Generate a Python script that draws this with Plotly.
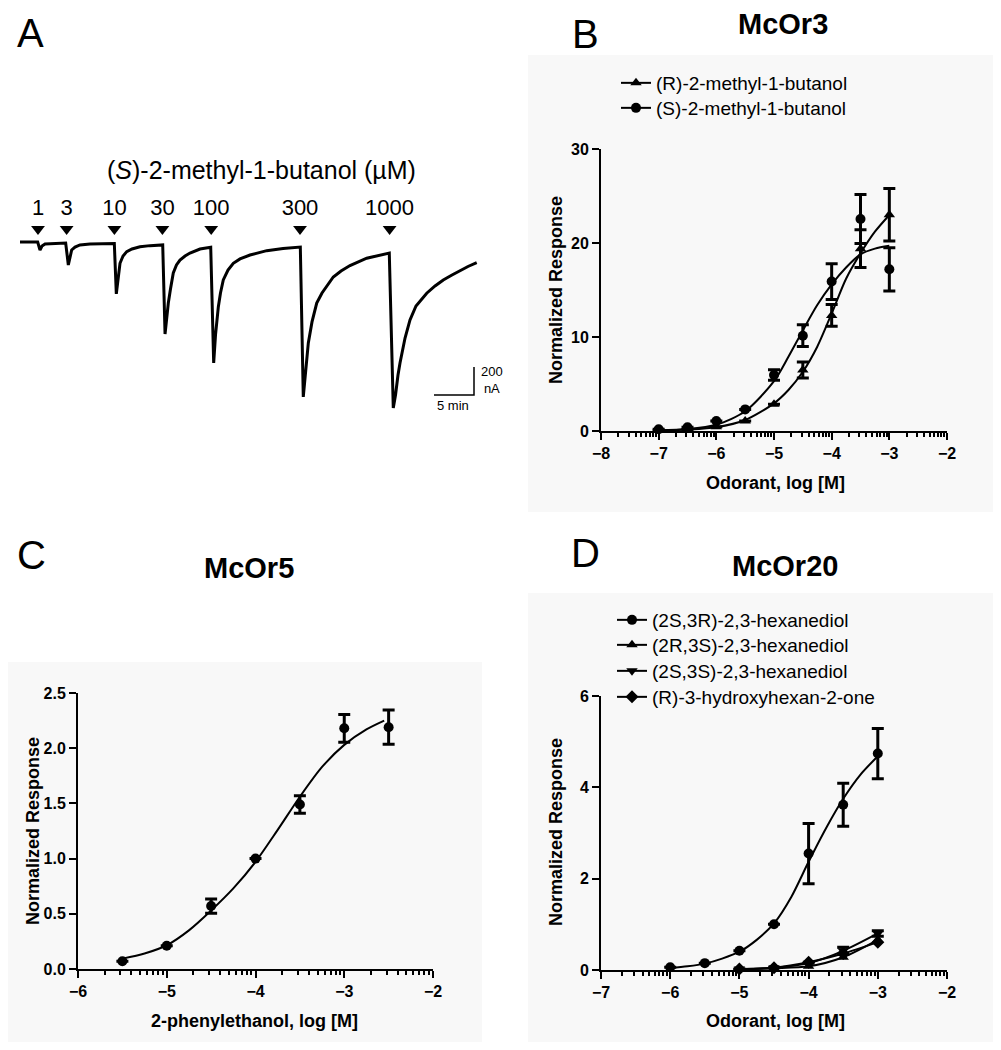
import numpy as np
import plotly.graph_objects as go

# The page body keeps its default 8px margin, so the figure is sized to fill
# the 1001x1050 window exactly with that margin around it.
WIN_W, WIN_H, OFF = 1001, 1050, 8
FW, FH = WIN_W - 2 * OFF, WIN_H - 2 * OFF
FONT = "Liberation Sans, Arial, sans-serif"

# ---------------- Panel A: two-electrode voltage clamp trace ----------------
trace_time_min = [0.0, 2.21, 2.5, 2.75, 3.13, 5.63,
                  5.71, 6.04, 6.25, 6.46, 6.88, 7.5, 8.75, 11.73,
                  11.79, 12.04, 12.25, 12.5, 12.88, 13.34, 14.0, 15.0, 16.25, 17.8,
                  17.84, 18.13, 18.31, 18.54, 18.81, 19.16, 19.56, 20.0, 20.63, 21.25, 22.5, 23.79,
                  23.84, 24.21, 24.44, 24.79, 25.06, 25.41, 26.0, 26.66, 27.5, 28.75, 30.84, 32.88, 35.0,
                  35.04, 35.41, 35.63, 36.04, 36.5, 37.09, 37.75, 38.38, 39.16, 40.13, 41.25, 43.34, 44.75, 46.13,
                  46.16, 46.66, 46.94, 47.25, 47.5, 48.13, 48.75, 49.5, 50.84, 51.88, 52.91, 54.0, 55.0, 56.0, 57.09]
trace_current_nA = [0, 0, -57, -29, -14, -7,
                    -7, -164, -100, -57, -36, -21, -14, -11,
                    -11, -371, -250, -152, -100, -69, -50, -34, -26, -21,
                    -21, -657, -543, -436, -336, -221, -164, -129, -100, -79, -50, -38,
                    -38, -864, -664, -464, -364, -271, -200, -152, -121, -93, -62, -46, -36,
                    -36, -1107, -986, -721, -571, -436, -364, -314, -250, -207, -168, -116, -96, -79,
                    -79, -1186, -1093, -950, -864, -686, -557, -457, -366, -314, -271, -236, -204, -175, -148]
stim_time_min = [2.25, 5.83, 11.8, 17.8, 23.9, 35.0, 46.2]
stim_conc_uM = ["1", "3", "10", "30", "100", "300", "1000"]
SCALE_MIN, SCALE_NA = 5, 200

# ---------------- Panel B: McOr3 ----------------
logc_B = [-7, -6.5, -6, -5.5, -5, -4.5, -4, -3.5, -3]
R_mean = [0.05, 0.15, 0.45, 1.06, 2.84, 6.5, 12.3, 19.4, 23.0]
R_sem = [None, None, None, None, None, 0.85, 1.15, 2.0, 2.8]
S_mean = [0.18, 0.39, 1.06, 2.3, 5.96, 10.14, 15.9, 22.55, 17.2]
S_sem = [None, None, None, None, 0.55, 1.15, 1.9, 2.6, 2.3]
fit_x_B = [-7, -6.5, -6, -5.5, -5, -4.75, -4.5, -4.25, -4, -3.75, -3.5, -3.25, -3]
S_fit = [0.07, 0.2, 0.66, 2.1, 5.3, 7.9, 10.7, 13.4, 15.6, 17.4, 18.8, 19.4, 19.7]
R_fit = [0.05, 0.15, 0.4, 1.17, 2.94, 4.36, 6.3, 8.97, 12.5, 16.2, 18.9, 21.2, 22.98]

# ---------------- Panel C: McOr5 ----------------
logc_C = [-5.5, -5, -4.5, -4, -3.5, -3, -2.5]
C_mean = [0.07, 0.21, 0.57, 1.0, 1.49, 2.18, 2.19]
C_sem = [None, None, 0.065, None, 0.08, 0.125, 0.155]
fit_x_C = [-5.5, -5.25, -5, -4.75, -4.5, -4.25, -4, -3.75, -3.5, -3.25, -3, -2.75, -2.55]
C_fit = [0.094, 0.14, 0.215, 0.35, 0.53, 0.73, 0.97, 1.26, 1.56, 1.83, 2.03, 2.17, 2.25]

# ---------------- Panel D: McOr20 ----------------
logc_D = [-6, -5.5, -5, -4.5, -4, -3.5, -3]
D1_mean = [0.06, 0.15, 0.42, 1.0, 2.55, 3.62, 4.74]
D1_sem = [None, None, None, None, 0.66, 0.47, 0.55]
fit_x_D1 = [-6, -5.75, -5.5, -5.25, -5, -4.75, -4.5, -4.25, -4, -3.75, -3.5, -3.25, -3]
D1_fit = [0.04, 0.08, 0.14, 0.25, 0.4, 0.66, 1.02, 1.6, 2.37, 3.1, 3.75, 4.28, 4.68]
logc_D_low = [-5, -4.5, -4, -3.5, -3]
D2_mean = [0.02, 0.04, 0.08, 0.28, 0.66]
D3_mean = [0.02, 0.05, 0.15, 0.42, 0.80]
D3_sem = [None, None, None, 0.08, 0.06]
D4_mean = [0.02, 0.05, 0.17, 0.36, 0.61]

names_B = ["(R)-2-methyl-1-butanol", "(S)-2-methyl-1-butanol"]
names_D = ["(2S,3R)-2,3-hexanediol", "(2R,3S)-2,3-hexanediol",
           "(2S,3S)-2,3-hexanediol", "(R)-3-hydroxyhexan-2-one"]


def px(x):
    """window pixel -> paper x"""
    return min(max((x - OFF) / FW, 0), 1)


def py(y):
    """window pixel -> paper y"""
    return min(max(1 - (y - OFF) / FH, 0), 1)


fig = go.Figure()
BLACK = "black"
MS = 10

# Panel A trace
fig.add_trace(go.Scatter(x=trace_time_min, y=trace_current_nA, mode="lines",
                         line=dict(color=BLACK, width=3), xaxis="x4", yaxis="y4",
                         showlegend=False, hoverinfo="skip"))
ARROW_Y = 93
fig.add_trace(go.Scatter(x=stim_time_min, y=[ARROW_Y] * len(stim_time_min), mode="markers+text",
                         marker=dict(symbol="triangle-down", size=12, color=BLACK),
                         text=stim_conc_uM, textposition="top center",
                         textfont=dict(family=FONT, size=22, color=BLACK),
                         xaxis="x4", yaxis="y4", showlegend=False, cliponaxis=False, hoverinfo="skip"))
SB_T0, SB_I0 = 51.75, -1093
fig.add_trace(go.Scatter(x=[SB_T0, SB_T0 + SCALE_MIN, SB_T0 + SCALE_MIN],
                         y=[SB_I0, SB_I0, SB_I0 + SCALE_NA], mode="lines",
                         line=dict(color=BLACK, width=1.5), xaxis="x4", yaxis="y4",
                         showlegend=False, cliponaxis=False, hoverinfo="skip"))


def add_series(x, y, err, fx, fy, symbol, ax, name, legend, size=MS):
    fig.add_trace(go.Scatter(x=fx, y=fy, mode="lines", line=dict(color=BLACK, width=2, shape="spline", smoothing=0.8),
                             xaxis=ax[0], yaxis=ax[1], showlegend=False, hoverinfo="skip", cliponaxis=False))
    fig.add_trace(go.Scatter(x=x, y=y, mode="markers", marker=dict(symbol=symbol, size=size, color=BLACK),
                             error_y=dict(type="data", array=err, color=BLACK, thickness=3, width=6,
                                          visible=err is not None),
                             xaxis=ax[0], yaxis=ax[1], showlegend=False, cliponaxis=False))
    if name:
        fig.add_trace(go.Scatter(x=[None], y=[None], mode="lines+markers", name=name,
                                 line=dict(color=BLACK, width=2), marker=dict(symbol=symbol, size=size, color=BLACK),
                                 xaxis=ax[0], yaxis=ax[1], legend=legend))


# each legend entry gets its own legend box so row spacing matches the original
add_series(logc_B, R_mean, R_sem, fit_x_B, R_fit, "triangle-up", ("x", "y"), names_B[0], "legend")
add_series(logc_B, S_mean, S_sem, fit_x_B, S_fit, "circle", ("x", "y"), names_B[1], "legend2")
add_series(logc_C, C_mean, C_sem, fit_x_C, C_fit, "circle", ("x2", "y2"), None, None)
add_series(logc_D, D1_mean, D1_sem, fit_x_D1, D1_fit, "circle", ("x3", "y3"), names_D[0], "legend3")
add_series(logc_D_low, D2_mean, None, logc_D_low, D2_mean, "triangle-up", ("x3", "y3"), names_D[1], "legend4")
add_series(logc_D_low, D3_mean, D3_sem, logc_D_low, D3_mean, "triangle-down", ("x3", "y3"), names_D[2], "legend5")
add_series(logc_D_low, D4_mean, None, logc_D_low, D4_mean, "diamond", ("x3", "y3"), names_D[3], "legend6")


def minor_vals(lo, hi):
    vals = []
    for d in range(lo, hi):
        vals += [d + np.log10(k) for k in range(2, 10)]
    return vals


tickfont = dict(family=FONT, size=16, color=BLACK, weight="bold")


def xaxis(dom, rng, anchor):
    return dict(domain=dom, range=rng, anchor=anchor, showline=True, linewidth=2, linecolor=BLACK,
                ticks="outside", ticklen=7, tickwidth=2, tickcolor=BLACK, dtick=1, tick0=0,
                showgrid=False, zeroline=False, tickfont=tickfont, fixedrange=True, automargin=False,
                minor=dict(tickmode="array", tickvals=minor_vals(rng[0], rng[1]), ticks="outside",
                           ticklen=4, tickwidth=1.5, tickcolor=BLACK, showgrid=False))


def yaxis(dom, rng, dtick, anchor, fmt=None):
    d = dict(domain=dom, range=rng, anchor=anchor, showline=True, linewidth=2, linecolor=BLACK,
             ticks="outside", ticklen=7, tickwidth=2, tickcolor=BLACK, dtick=dtick, tick0=0,
             showgrid=False, zeroline=False, tickfont=tickfont, fixedrange=True, automargin=False)
    if fmt:
        d["tickformat"] = fmt
    return d


def leg(x, ycenter):
    return dict(x=px(x), y=py(ycenter - 19), xanchor="left", yanchor="top", bgcolor="rgba(0,0,0,0)",
                font=dict(family=FONT, size=19, color=BLACK), tracegroupgap=0)


layout = dict(
    width=FW, height=FH, margin=dict(l=0, r=0, t=0, b=0, autoexpand=False),
    paper_bgcolor="white", plot_bgcolor="rgba(0,0,0,0)",
    font=dict(family=FONT, color=BLACK),
    xaxis=xaxis([px(601), px(947)], [-8, -2], "y"),
    yaxis=yaxis([py(431), py(149)], [0, 30], 10, "x"),
    xaxis2=xaxis([px(78), px(433)], [-6, -2], "y2"),
    yaxis2=yaxis([py(969), py(693)], [0, 2.5], 0.5, "x2", ".1f"),
    xaxis3=xaxis([px(601), px(947)], [-7, -2], "y3"),
    yaxis3=yaxis([py(970), py(696)], [0, 6], 2, "x3"),
    xaxis4=dict(domain=[px(8), px(500)], range=[(8 - 20) / 8, 60], visible=False, anchor="y4"),
    yaxis4=dict(domain=[py(430), py(130)], range=[-1343, 800], visible=False, anchor="x4"),
    legend=leg(616, 83), legend2=leg(616, 108),
    legend3=leg(612, 620), legend4=leg(612, 645), legend5=leg(612, 671), legend6=leg(612, 697),
    shapes=[
        dict(type="rect", xref="paper", yref="paper", x0=px(528), x1=px(1001), y0=py(512), y1=py(55),
             fillcolor="#f8f8f8", line=dict(width=0), layer="below"),
        dict(type="rect", xref="paper", yref="paper", x0=px(8), x1=px(482), y0=py(1043), y1=py(662),
             fillcolor="#f8f8f8", line=dict(width=0), layer="below"),
        dict(type="rect", xref="paper", yref="paper", x0=px(528), x1=px(1001), y0=py(1045), y1=py(593),
             fillcolor="#f8f8f8", line=dict(width=0), layer="below"),
    ],
)
fig.update_layout(**layout)


def ann(text, x, y, size, bold=False, angle=0):
    fig.add_annotation(text=f"<b>{text}</b>" if bold else text, x=px(x), y=py(y), xref="paper", yref="paper",
                       xanchor="center", yanchor="middle", showarrow=False, textangle=angle,
                       font=dict(family=FONT, size=size, color=BLACK))


for letter, (x, y) in {"A": (30, 33), "B": (585, 34), "C": (31, 555), "D": (585, 553)}.items():
    ann(letter, x, y, 40)
ann("McOr3", 783, 24, 29, bold=True)
ann("McOr5", 249, 568, 29, bold=True)
ann("McOr20", 785, 566, 29, bold=True)
ann("(<i>S</i>)-2-methyl-1-butanol (µM)", 262, 170, 25)
ann("Normalized Response", 556, 290, 18, bold=True, angle=-90)
ann("Odorant, log [M]", 775, 483, 18, bold=True)
ann("Normalized Response", 33, 831, 18, bold=True, angle=-90)
ann("2-phenylethanol, log [M]", 254, 1021, 18, bold=True)
ann("Normalized Response", 556, 832, 18, bold=True, angle=-90)
ann("Odorant, log [M]", 775, 1021, 18, bold=True)
ann(f"{SCALE_MIN} min", 453, 405, 13)
ann(f"{SCALE_NA}<br>nA", 492, 380, 13)

fig.write_html("out.html", config={"displayModeBar": False})
